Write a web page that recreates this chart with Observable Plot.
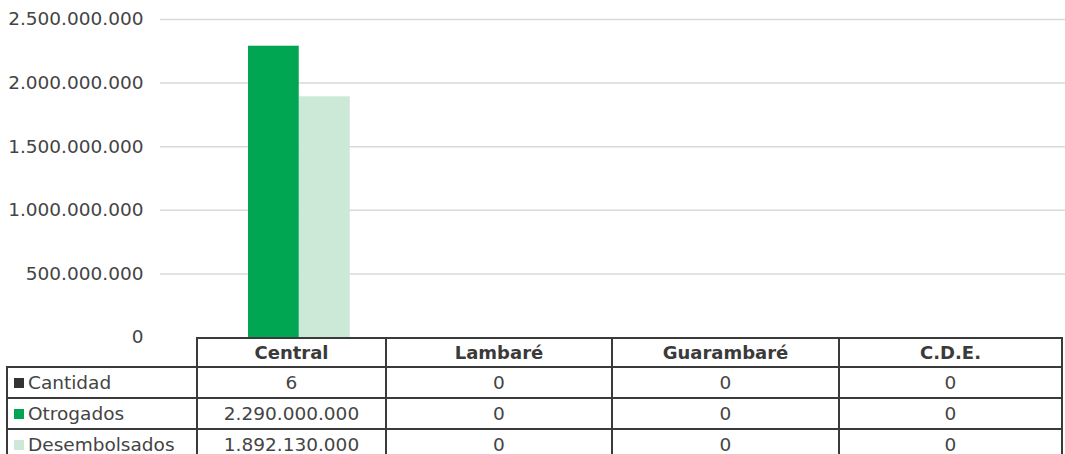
<!DOCTYPE html>
<html>
<head>
<meta charset="utf-8">
<script src="https://cdn.jsdelivr.net/npm/d3@7"></script>
<script src="https://cdn.jsdelivr.net/npm/@observablehq/plot@0.6"></script>
<style>
  html, body { margin: 0; padding: 0; background: #fff; }
  #wrap { position: relative; width: 1065px; height: 454px; overflow: hidden; font-family: "DejaVu Sans", sans-serif; }
  #chart svg { display: block; overflow: visible; }
  table { border-collapse: collapse; table-layout: fixed; margin-left: 6px; color: #3a3a3a; font-size: 18.5px; }
  td, th { border: 2px solid #3a3a3a; padding: 0; text-align: center; white-space: nowrap; overflow: hidden; }
  th { font-weight: bold; height: 27px; font-size: 18px; }
  td { height: 29px; color: #444; }
  th.empty { border: none; }
  td.lbl { text-align: left; padding-left: 6px; }
  .sw { display: inline-block; width: 10px; height: 10px; margin-right: 4px; vertical-align: 1px; }
</style>
</head>
<body>
<div id="wrap">
  <div id="chart"></div>
  <div id="table"></div>
</div>
<script>
// ---- data ----
const regions = ["Central", "Lambaré", "Guarambaré", "C.D.E."];
const seriesNames = ["Cantidad", "Otrogados", "Desembolsados"];
const cantidad = [6, 0, 0, 0];
const otrogados = [2290000000, 0, 0, 0];
const desembolsados = [1892130000, 0, 0, 0];
const yTicks = [0, 500000000, 1000000000, 1500000000, 2000000000, 2500000000];

// ---- styles ----
const colors = { Cantidad: "#333333", Otrogados: "#00a651", Desembolsados: "#cce8d6" };
const locale = d3.formatLocale({ decimal: ",", thousands: ".", grouping: [3], currency: ["", ""] });
const fmt = locale.format(",.0f");

const bars = [];
regions.forEach((r, i) => {
  bars.push({ region: r, series: "Otrogados", value: otrogados[i] });
  bars.push({ region: r, series: "Desembolsados", value: desembolsados[i] });
});

const W = 1065;
const bandStart = 189, bandEnd = 1062;
const bw = (bandEnd - bandStart) / regions.length;

const plot = Plot.plot({
  width: W,
  height: 337,
  marginTop: 19,
  marginBottom: 0,
  marginLeft: 160,
  marginRight: 0,
  style: { fontFamily: "DejaVu Sans, sans-serif", fontSize: "18.5px", color: "#444", overflow: "visible", background: "transparent" },
  x: { type: "band", domain: regions, range: [bandStart, bandEnd], padding: 0, axis: null },
  y: { domain: [0, 2500000000], axis: null },
  marks: [
    Plot.ruleY(yTicks.filter(d => d > 0), { stroke: "#d9d9d9", strokeWidth: 1.5 }),
    Plot.barY(bars.filter(d => d.series === "Otrogados"), {
      x: "region", y: "value", fill: colors.Otrogados,
      insetLeft: 58, insetRight: bw - 109
    }),
    Plot.barY(bars.filter(d => d.series === "Desembolsados"), {
      x: "region", y: "value", fill: colors.Desembolsados,
      insetLeft: 109, insetRight: bw - 160
    }),
    Plot.axisY(yTicks, { tickSize: 0, tickPadding: 17, tickFormat: fmt, fontSize: 18.5, fill: "#444", label: null })
  ]
});
document.getElementById("chart").appendChild(plot);

// ---- data table ----
const colW = [190, 189, 226, 227, 223];
const rows = [cantidad, otrogados, desembolsados];
let html = "<table><colgroup>" + colW.map(w => `<col style="width:${w}px">`).join("") + "</colgroup>";
html += "<tr><th class='empty'></th>" + regions.map(r => `<th>${r}</th>`).join("") + "</tr>";
rows.forEach((vals, k) => {
  const name = seriesNames[k];
  html += `<tr><td class="lbl"><span class="sw" style="background:${colors[name]}"></span>${name}</td>` +
    vals.map(v => `<td>${fmt(v)}</td>`).join("") + "</tr>";
});
html += "</table>";
document.getElementById("table").innerHTML = html;
</script>
</body>
</html>
